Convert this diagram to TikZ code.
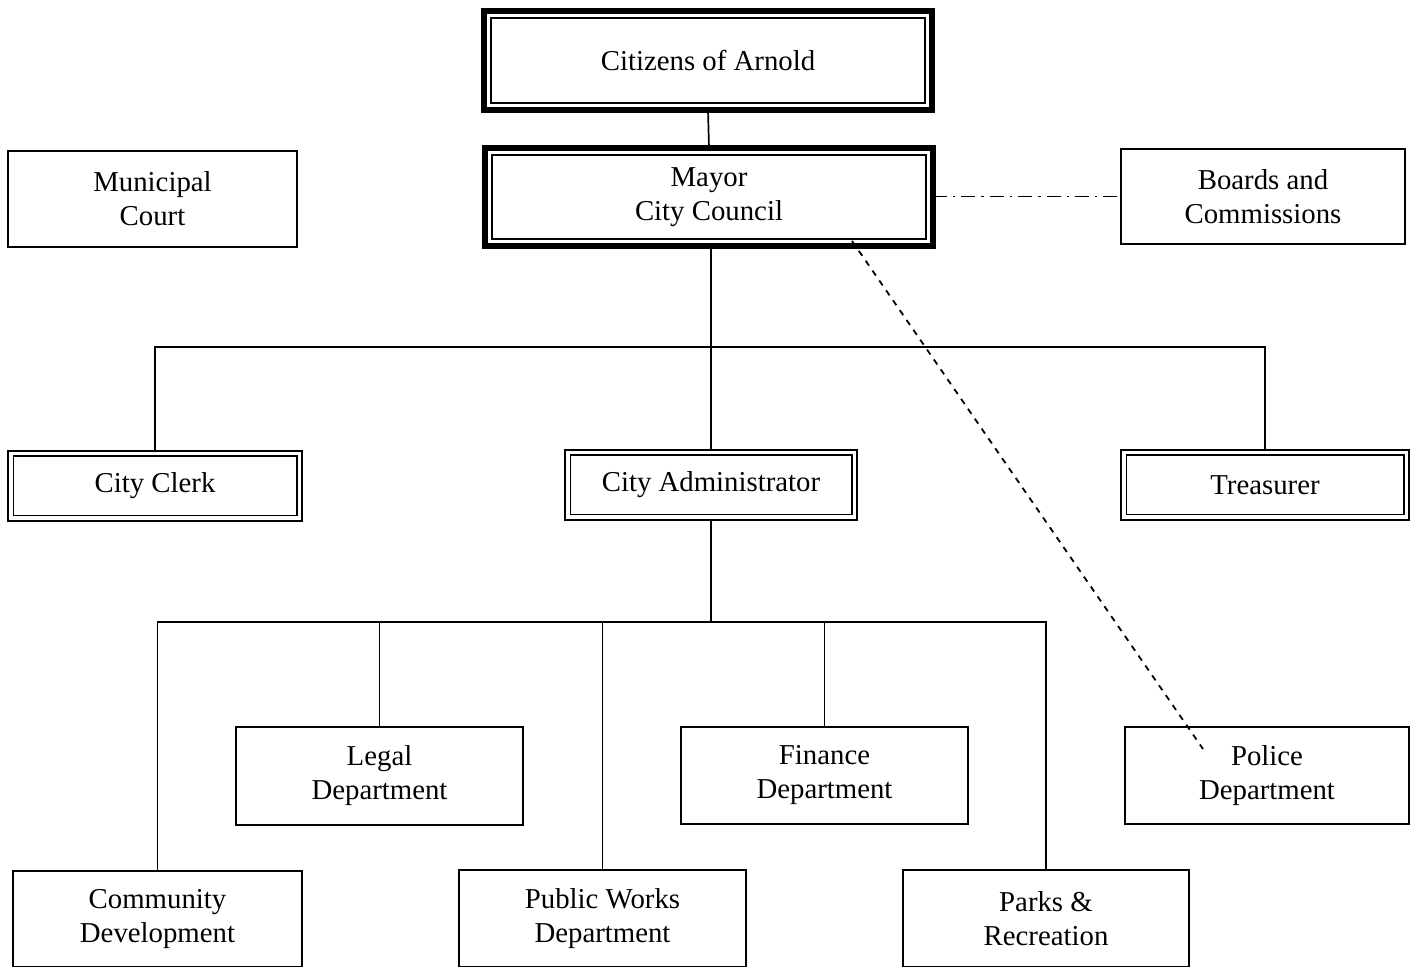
\documentclass[tikz,border=0pt]{standalone}
\usepackage{fontspec}
\setmainfont{Liberation Serif}
\begin{document}
\begin{tikzpicture}[x=0.5pt,y=-0.5pt,
  box/.style={draw, line width=0.9pt, inner sep=0pt, outer sep=0pt, align=center, font=\fontsize{14.4}{17}\selectfont},
  heavybox/.style={box, line width=3pt},
  dblbox/.style={box, line width=1pt},
  innerline/.style={line width=0.7pt},
  link/.style={line width=0.85pt},
  dashdot/.style={line width=0.8pt, dash pattern=on 7pt off 3pt on 1.2pt off 3pt},
  dashlink/.style={line width=0.9pt, dash pattern=on 3pt off 3pt}
]
\useasboundingbox (0,0) rectangle (1420,967);
\fill[white] (0,0) rectangle (1420,967);

% top
\node[heavybox, minimum width=224pt, minimum height=49.5pt] (cit) at (708,60.5) {Citizens of Arnold};
\draw[innerline] ([xshift=3.5pt,yshift=-3.5pt]cit.north west) rectangle ([xshift=-3.5pt,yshift=3.5pt]cit.south east);
\node[heavybox, minimum width=224pt, minimum height=49pt] (may) at (709,197) {Mayor\\City Council};
\draw[innerline] ([xshift=3.5pt,yshift=-3.5pt]may.north west) rectangle ([xshift=-3.5pt,yshift=3.5pt]may.south east);

\node[box, minimum width=144.5pt, minimum height=48pt] (crt) at (152.5,199) {Municipal\\Court};
\node[box, minimum width=142pt, minimum height=47.5pt] (brd) at (1263,196.5) {Boards and\\Commissions};

% middle row
\node[dblbox, minimum width=147pt, minimum height=35pt] (clk) at (155,486) {City Clerk};
\draw[innerline] ([xshift=2.6pt,yshift=-2.6pt]clk.north west) rectangle ([xshift=-2.6pt,yshift=2.6pt]clk.south east);
\node[dblbox, minimum width=146pt, minimum height=35pt] (adm) at (711,485) {City Administrator};
\draw[innerline] ([xshift=2.6pt,yshift=-2.6pt]adm.north west) rectangle ([xshift=-2.6pt,yshift=2.6pt]adm.south east);
\node[dblbox, minimum width=144pt, minimum height=35pt] (trs) at (1265,485) {Treasurer};
\draw[innerline] ([xshift=2.6pt,yshift=-2.6pt]trs.north west) rectangle ([xshift=-2.6pt,yshift=2.6pt]trs.south east);

% departments
\node[box, minimum width=143.5pt, minimum height=49pt] (leg) at (379.5,776) {Legal\\Department};
\node[box, minimum width=143.5pt, minimum height=48.5pt] (fin) at (824.5,775.5) {Finance\\Department};
\node[box, minimum width=142pt, minimum height=48.5pt] (pol) at (1267,775.5) {Police\\Department};
\node[box, minimum width=144.5pt, minimum height=48pt] (com) at (157.5,919) {Community\\Development};
\node[box, minimum width=143.5pt, minimum height=48.5pt] (pw) at (602.5,918.5) {Public Works\\Department};
\node[box, minimum width=143pt, minimum height=48.5pt] (prk) at (1046,918.5) {Parks \&\\Recreation};

\coordinate (b1) at (710,347);
\coordinate (b2) at (712,622);
\coordinate (ds) at (852,241);
\coordinate (de) at (1203,749);

% connectors
\draw[link] (cit.south) -- (may.north);
\draw[link] (adm.north |- may.south) -- (adm.north);
\draw[link] (clk.north) -- (clk.north |- b1) -- (trs.north |- b1) -- (trs.north);
\draw[link] (adm.south) -- (adm.south |- b2);
\draw[link] (com.north) -- (com.north |- b2) -- (prk.north |- b2) -- (prk.north);
\draw[link] (leg.north |- b2) -- (leg.north);
\draw[link] (pw.north |- b2) -- (pw.north);
\draw[link] (fin.north |- b2) -- (fin.north);
\draw[dashdot] (may.east |- brd.west) -- (brd.west);
\draw[dashlink] (ds) -- (de);
\end{tikzpicture}
\end{document}
